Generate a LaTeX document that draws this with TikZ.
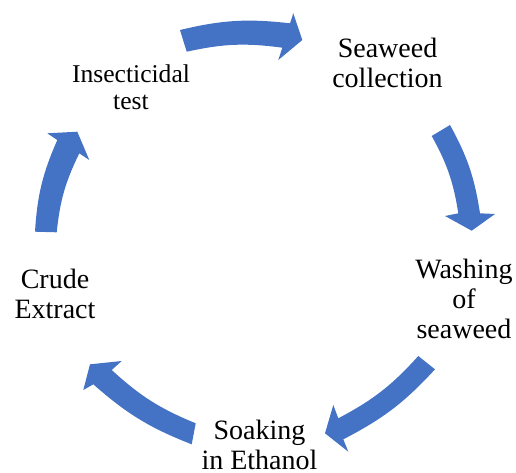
\documentclass[tikz,border=0pt]{standalone}
\usepackage{fontspec}
\setmainfont{Liberation Serif}
\definecolor{arrowblue}{HTML}{4472C4}
\tikzset{
  cyclearrow/.style={fill=arrowblue, draw=none},
  steplabel/.style={anchor=north, inner sep=0pt, align=center,
    font=\fontsize{28}{30}\selectfont},
  smalllabel/.style={anchor=north, inner sep=0pt, align=center,
    font=\fontsize{25.6}{27}\selectfont}
}
\begin{document}
\begin{tikzpicture}[x=1pt,y=-1pt]
\useasboundingbox (0,0) rectangle (516,472);
% labels
\node[steplabel] (collect) at (387.5,37.9) {Seaweed\\collection};
\node[steplabel] (wash) at (464,258.9) {Washing\\of\\seaweed};
\node[steplabel, text depth=0pt] (soak) at (259.5,419.5) {Soaking\\in Ethanol};
\node[steplabel] (crude) at (55,268.9) {Crude\\Extract};
\node[smalllabel] (insect) at (131,64.2) {Insecticidal\\test};
% arrow 1 (top)
\fill[cyclearrow] (180,30) to[bend left=10] (290,23.3) -- (293.3,13.3) -- (302.3,40)
  -- (278.3,60) -- (282.3,47.7) to[bend right=10] (186.7,51.7) -- cycle;
% arrow 2 (right)
\fill[cyclearrow] (450,125) to[bend left=10] (480,213.3) -- (495,214) -- (471.7,230.7)
  -- (445,216) -- (458.3,213.3) to[bend right=10] (431.7,136) -- cycle;
% arrow 3 (lower right)
\fill[cyclearrow] (435,369.3) to[bend left=10] (343.3,439.3) -- (348.3,451.7) -- (325,433.3)
  -- (333.3,405) -- (338.3,418.3) to[bend right=10] (418.3,356) -- cycle;
% arrow 4 (lower left)
\fill[cyclearrow] (191.7,444.3) to[bend left=10] (93.3,384.3) -- (83.3,390) -- (90,364.3)
  -- (121.7,361) -- (111.7,370) to[bend right=10] (195.7,423.3) -- cycle;
% arrow 5 (left)
\fill[cyclearrow] (35,231.7) to[bend left=10] (57.3,140) -- (47.3,133.3) -- (77.3,131.7)
  -- (89.3,160) -- (79.3,153.3) to[bend right=10] (56.7,232.3) -- cycle;
\end{tikzpicture}
\end{document}
